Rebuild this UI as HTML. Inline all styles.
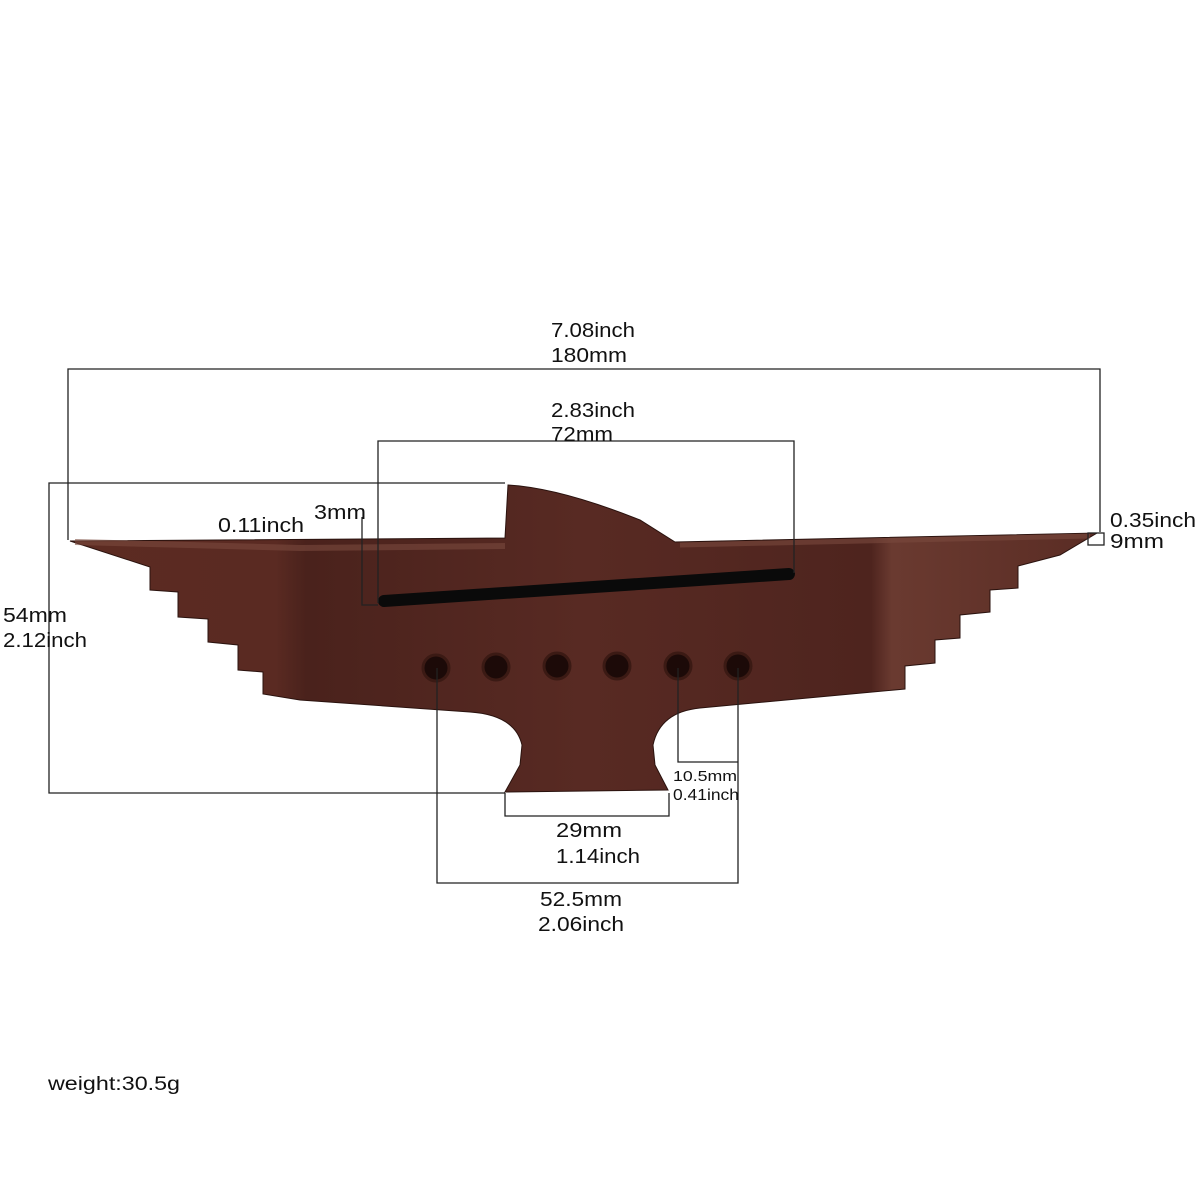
<!DOCTYPE html>
<html><head><meta charset="utf-8"><style>
html,body{margin:0;padding:0;background:#fff;}
svg{display:block;}
text{font-family:"Liberation Sans","DejaVu Sans",sans-serif;fill:#111;}
</style></head><body>
<svg width="1200" height="1200" viewBox="0 0 1200 1200" xmlns="http://www.w3.org/2000/svg">
<defs>
<linearGradient id="w" x1="0" y1="0" x2="1" y2="0">
<stop offset="0" stop-color="#5c2b22"/>
<stop offset="0.2" stop-color="#5a2a22"/>
<stop offset="0.23" stop-color="#4a221c"/>
<stop offset="0.5" stop-color="#582a23"/>
<stop offset="0.78" stop-color="#4e241e"/>
<stop offset="0.8" stop-color="#6a3a30"/>
<stop offset="1" stop-color="#5a2c24"/>
</linearGradient>
</defs>
<rect width="1200" height="1200" fill="#fff"/>
<path fill="url(#w)" stroke="#2a120e" stroke-width="1" d="
M70,541 L505,538 L508,485 Q560,488 640,520 L675,542 L1097,533
L1060,555 L1018,566 L1018,588 L990,590 L990,612 L960,615 L960,638 L935,640 L935,663 L905,666 L905,689
L700,708 Q660,712 653,745 L655,765 L668,790 L505,792 L520,765 L522,745 Q515,715 470,712
L300,700 L263,694 L263,672 L238,670 L238,645 L208,642 L208,619 L178,617 L178,592 L150,590 L150,567 Z"/>
<path d="M75,542 L300,548 L505,546" stroke="#7a4a3e" stroke-width="6" fill="none" opacity="0.6"/>
<path d="M680,545 L1090,536" stroke="#7a4a3e" stroke-width="5" fill="none" opacity="0.6"/>
<line x1="384" y1="601" x2="789" y2="574" stroke="#0a0a0a" stroke-width="12" stroke-linecap="round"/>
<g fill="#1c0a08" stroke="#3b1a14" stroke-width="3">
<circle cx="436" cy="668" r="13"/><circle cx="496" cy="667" r="13"/><circle cx="557" cy="666" r="13"/>
<circle cx="617" cy="666" r="13"/><circle cx="678" cy="666" r="13"/><circle cx="738" cy="666" r="13"/>
</g>
<g stroke="#222" stroke-width="1.3" fill="none">
<polyline points="68,540 68,369 1100,369 1100,532"/>
<polyline points="378,603 378,441 794,441 794,573"/>
<polyline points="362,517 362,605 378,605"/>
<polyline points="505,483 49,483 49,793 505,793"/>
<polyline points="505,793 505,816 669,816 669,793"/>
<polyline points="437,668 437,883 738,883 738,668"/>
<polyline points="678,668 678,762 738,762"/>
<rect x="1088" y="533" width="16" height="12"/>
</g>
<g lengthAdjust="spacingAndGlyphs">
<text x="551" y="337" font-size="20" textLength="84" lengthAdjust="spacingAndGlyphs">7.08inch</text>
<text x="551" y="362" font-size="20" textLength="76" lengthAdjust="spacingAndGlyphs">180mm</text>
<text x="551" y="417" font-size="20" textLength="84" lengthAdjust="spacingAndGlyphs">2.83inch</text>
<text x="551" y="441" font-size="20" textLength="62" lengthAdjust="spacingAndGlyphs">72mm</text>
<text x="218" y="532" font-size="20" textLength="86" lengthAdjust="spacingAndGlyphs">0.11inch</text>
<text x="314" y="519" font-size="20" textLength="52" lengthAdjust="spacingAndGlyphs">3mm</text>
<text x="1110" y="527" font-size="20" textLength="86" lengthAdjust="spacingAndGlyphs">0.35inch</text>
<text x="1110" y="548" font-size="20" textLength="54" lengthAdjust="spacingAndGlyphs">9mm</text>
<text x="3" y="622" font-size="20" textLength="64" lengthAdjust="spacingAndGlyphs">54mm</text>
<text x="3" y="647" font-size="20" textLength="84" lengthAdjust="spacingAndGlyphs">2.12inch</text>
<text x="673" y="781" font-size="15" textLength="64" lengthAdjust="spacingAndGlyphs">10.5mm</text>
<text x="673" y="800" font-size="16" textLength="66" lengthAdjust="spacingAndGlyphs">0.41inch</text>
<text x="556" y="837" font-size="20" textLength="66" lengthAdjust="spacingAndGlyphs">29mm</text>
<text x="556" y="863" font-size="20" textLength="84" lengthAdjust="spacingAndGlyphs">1.14inch</text>
<text x="540" y="906" font-size="20" textLength="82" lengthAdjust="spacingAndGlyphs">52.5mm</text>
<text x="538" y="931" font-size="20" textLength="86" lengthAdjust="spacingAndGlyphs">2.06inch</text>
<text x="48" y="1090" font-size="19" textLength="132" lengthAdjust="spacingAndGlyphs">weight:30.5g</text>
</g>
</svg>
</body></html>
